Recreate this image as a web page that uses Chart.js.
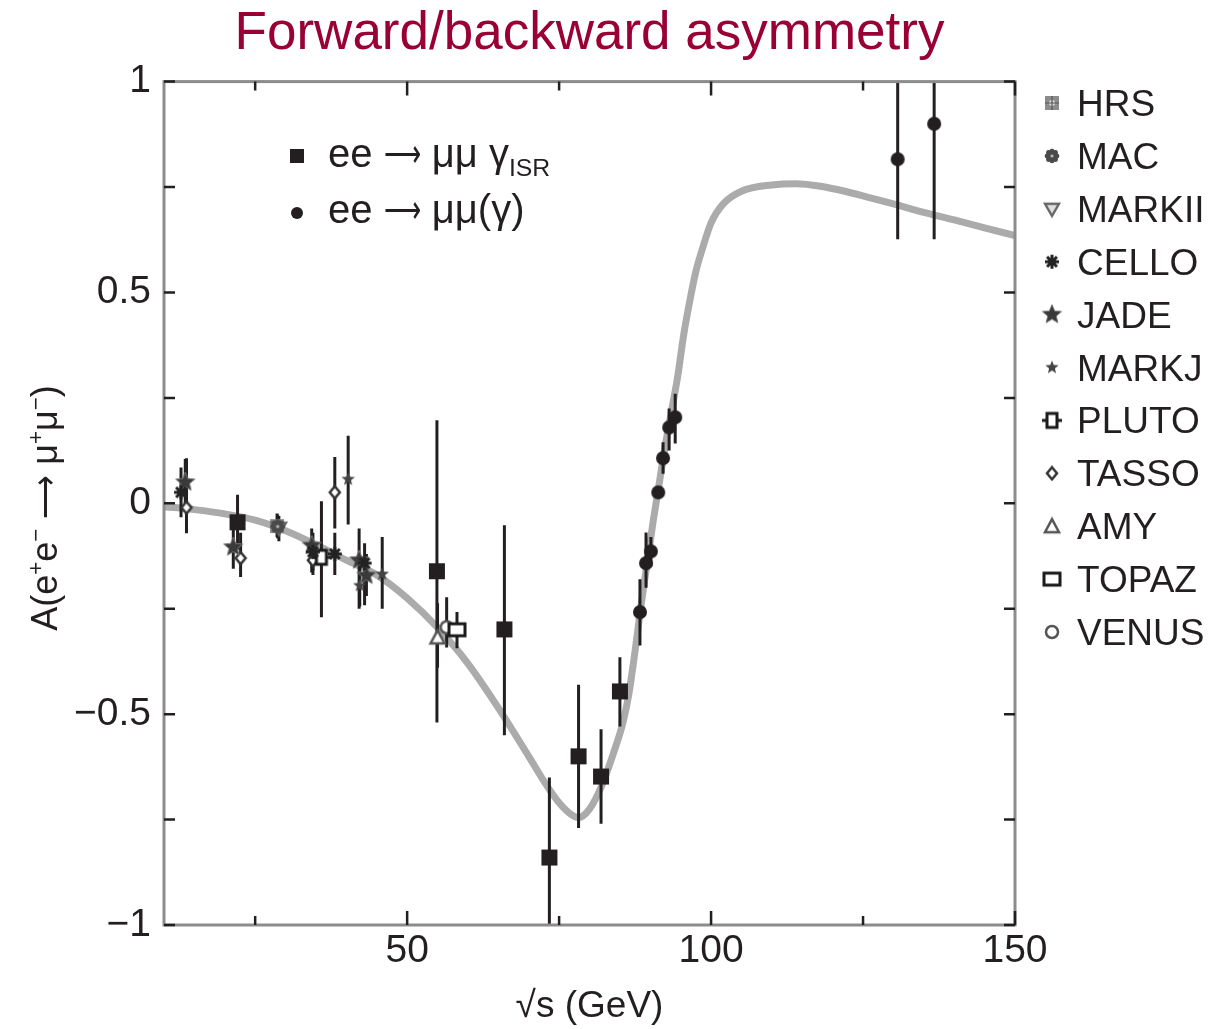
<!DOCTYPE html>
<html>
<head>
<meta charset="utf-8">
<script src="https://cdn.jsdelivr.net/npm/chart.js@4.4.0/dist/chart.umd.min.js"></script>
<style>
  html, body { margin: 0; padding: 0; background: #fff; }
  #wrap { width: 1221px; height: 1029px; }
</style>
</head>
<body>
<div id="wrap"><canvas id="asymmetria" width="1221" height="1029"></canvas></div>
<script>
// eixos
const yTickVals = [-1, -0.75, -0.5, -0.25, 0, 0.25, 0.5, 0.75, 1];
const yTickLabels = ['\u22121', '', '\u22120.5', '', '0', '', '0.5', '', '1'];
const xTickVals = [25, 50, 75, 100, 125, 150];
const xTickLabels = ['', '50', '', '100', '', '150'];

// curva teorica
const curveX = [10, 15, 20, 25, 30, 35, 40, 45, 50, 55, 60, 65, 70, 73, 75, 77, 78.2, 80, 82, 84, 85.5, 86.5, 87.5, 88.5, 89.5, 90.5, 91.5, 92.5, 93.5, 94.5, 95.5, 96.5, 97.5, 98.5, 100, 102, 105, 110, 114, 118, 122, 126, 130, 135, 140, 145, 150];
const curveY = [-0.008, -0.015, -0.025, -0.04, -0.065, -0.098, -0.135, -0.17, -0.225, -0.295, -0.38, -0.485, -0.6, -0.67, -0.71, -0.738, -0.745, -0.725, -0.67, -0.59, -0.52, -0.45, -0.35, -0.24, -0.14, -0.04, 0.05, 0.14, 0.22, 0.3, 0.4, 0.48, 0.55, 0.6, 0.665, 0.71, 0.74, 0.755, 0.758, 0.752, 0.74, 0.725, 0.71, 0.69, 0.672, 0.653, 0.635];

// ee -> mumu gamma_ISR
const isrX = [22.1, 54.9, 66.0, 73.4, 78.2, 81.9, 85.0];
const isrY = [-0.045, -0.161, -0.299, -0.84, -0.6, -0.648, -0.446];
const isrLo = [-0.11, -0.52, -0.55, -1.0, -0.77, -0.76, -0.529];
const isrHi = [0.02, 0.197, -0.052, -0.65, -0.43, -0.536, -0.365];

// ee -> mumu(gamma)
const mmX = [88.3, 89.3, 90.1, 91.3, 92.1, 93.1, 94.1, 130.7, 136.7];
const mmY = [-0.258, -0.142, -0.114, 0.026, 0.107, 0.18, 0.204, 0.816, 0.9];
const mmLo = [-0.337, -0.2, -0.15, 0.017, 0.07, 0.125, 0.142, 0.626, 0.626];
const mmHi = [-0.18, -0.069, -0.08, 0.035, 0.145, 0.225, 0.26, 1.05, 1.1];

// experimentos de baixa energia
const experiments = ['HRS', 'MAC', 'MARKII', 'CELLO', 'JADE', 'MARKJ', 'PLUTO', 'TASSO', 'AMY', 'TOPAZ', 'VENUS'];
const lowExp = ['CELLO', 'JADE', 'TASSO', 'JADE', 'TASSO', 'HRS', 'MAC', 'MARKII', 'JADE', 'CELLO', 'TASSO', 'PLUTO', 'TASSO', 'CELLO', 'MARKJ', 'JADE', 'CELLO', 'MARKJ', 'JADE', 'MARKJ', 'AMY', 'VENUS', 'TOPAZ'];
const lowX = [12.8, 13.5, 13.7, 21.4, 22.6, 28.6, 28.7, 28.9, 34.3, 34.5, 34.5, 35.9, 38.1, 38.1, 40.3, 42.1, 43.0, 42.2, 43.3, 45.9, 55.0, 56.5, 58.2];
const lowY = [0.026, 0.05, -0.01, -0.104, -0.13, -0.054, -0.055, -0.058, -0.1, -0.115, -0.135, -0.128, 0.026, -0.12, 0.057, -0.135, -0.142, -0.195, -0.171, -0.168, -0.318, -0.294, -0.3];
const lowLo = [-0.033, 0.0, -0.071, -0.155, -0.175, -0.08, -0.083, -0.09, -0.164, -0.16, -0.17, -0.27, -0.06, -0.17, -0.05, -0.25, -0.242, -0.245, -0.22, -0.25, -0.39, -0.342, -0.344];
const lowHi = [0.085, 0.105, 0.107, -0.06, -0.07, -0.024, -0.027, -0.03, -0.06, -0.07, -0.1, 0.005, 0.11, -0.07, 0.16, -0.06, -0.095, -0.14, -0.12, -0.08, -0.237, -0.223, -0.258];

const FONT = "'Liberation Sans', Arial, sans-serif";
const INK = '#231f20';

// simbolos
function simbolo(size, desenho) {
    const c = document.createElement('canvas');
    c.width = size; c.height = size;
    const g = c.getContext('2d');
    g.translate(size / 2, size / 2);
    desenho(g);
    return c;
}
function estrela(g, ro, ri) {
    g.beginPath();
    for (let k = 0; k < 10; k++) {
        const r = k % 2 ? ri : ro;
        const a = -Math.PI / 2 + k * Math.PI / 5;
        g.lineTo(r * Math.cos(a), r * Math.sin(a));
    }
    g.closePath();
}

const simbolos = {
    HRS: simbolo(18, g => {
        g.fillStyle = '#8c8c8c'; g.fillRect(-7, -7, 14, 14);
        g.fillStyle = '#dcdcdc'; g.beginPath(); g.arc(0, 0, 3, 0, 7); g.fill();
        g.strokeStyle = '#555'; g.lineWidth = 1.2; g.beginPath();
        g.moveTo(-7, 0); g.lineTo(7, 0); g.moveTo(0, -7); g.lineTo(0, 7); g.stroke();
    }),
    MAC: simbolo(20, g => {
        g.fillStyle = '#4a4a4a';
        for (let k = 0; k < 8; k++) {
            const a = k * Math.PI / 4;
            g.beginPath(); g.arc(4.8 * Math.cos(a), 4.8 * Math.sin(a), 2.5, 0, 7); g.fill();
        }
        g.beginPath(); g.arc(0, 0, 4.2, 0, 7); g.fill();
        g.fillStyle = '#bbb'; g.beginPath(); g.arc(0, 0, 1.6, 0, 7); g.fill();
    }),
    MARKII: simbolo(20, g => {
        g.beginPath(); g.moveTo(-7, -5); g.lineTo(7, -5); g.lineTo(0, 7); g.closePath();
        g.fillStyle = '#e0e0e0'; g.fill();
        g.strokeStyle = '#666'; g.lineWidth = 2.4; g.stroke();
    }),
    CELLO: simbolo(20, g => {
        g.strokeStyle = '#222'; g.lineWidth = 3; g.beginPath();
        for (let k = 0; k < 4; k++) {
            const a = k * Math.PI / 4;
            g.moveTo(-7 * Math.cos(a), -7 * Math.sin(a)); g.lineTo(7 * Math.cos(a), 7 * Math.sin(a));
        }
        g.stroke();
    }),
    JADE: simbolo(24, g => {
        estrela(g, 10, 4.5);
        g.fillStyle = '#3a3a3a'; g.fill();
        g.strokeStyle = '#777'; g.lineWidth = 1; g.stroke();
    }),
    MARKJ: simbolo(18, g => {
        estrela(g, 7, 3);
        g.fillStyle = '#444'; g.fill();
    }),
    PLUTO: simbolo(22, g => {
        g.strokeStyle = '#1a1a1a'; g.lineWidth = 3;
        g.fillStyle = '#fff'; g.fillRect(-5, -7, 10, 14);
        g.strokeRect(-5, -7, 10, 14);
        g.beginPath(); g.moveTo(-10, 0); g.lineTo(-5, 0); g.moveTo(5, 0); g.lineTo(10, 0); g.stroke();
    }),
    TASSO: simbolo(16, g => {
        g.beginPath(); g.moveTo(0, -6); g.lineTo(5, 0); g.lineTo(0, 6); g.lineTo(-5, 0); g.closePath();
        g.fillStyle = '#fff'; g.fill();
        g.strokeStyle = '#333'; g.lineWidth = 2.5; g.stroke();
    }),
    AMY: simbolo(20, g => {
        g.beginPath(); g.moveTo(-7, 6); g.lineTo(7, 6); g.lineTo(0, -7); g.closePath();
        g.fillStyle = '#fff'; g.fill();
        g.strokeStyle = '#555'; g.lineWidth = 2.5; g.stroke();
    }),
    TOPAZ: simbolo(22, g => {
        g.fillStyle = '#fff'; g.fillRect(-8, -6, 16, 12);
        g.strokeStyle = '#1a1a1a'; g.lineWidth = 3; g.strokeRect(-8, -6, 16, 12);
    }),
    VENUS: simbolo(18, g => {
        g.beginPath(); g.arc(0, 0, 6, 0, 7);
        g.fillStyle = '#fff'; g.fill();
        g.strokeStyle = '#555'; g.lineWidth = 2.5; g.stroke();
    })
};
// ordem de desenho: HRS fica por baixo do MAC em 29 GeV
const ordem = { HRS: 4, MARKII: 3 };
const quadrado = simbolo(20, g => { g.fillStyle = INK; g.fillRect(-8, -8, 16, 16); });
const bolinha = simbolo(18, g => { g.fillStyle = INK; g.beginPath(); g.arc(0, 0, 7, 0, 7); g.fill(); });
const quadradoLeg = simbolo(18, g => { g.fillStyle = INK; g.fillRect(-7, -7, 14, 14); });
const bolinhaLeg = simbolo(16, g => { g.fillStyle = INK; g.beginPath(); g.arc(0, 0, 6, 0, 7); g.fill(); });

// datasets
const datasets = [];
datasets.push({
    label: 'curva',
    isCurve: true,
    type: 'line',
    data: curveX.map((x, i) => ({ x: x, y: curveY[i] })),
    borderColor: '#ababab',
    borderWidth: 7,
    pointRadius: 0,
    cubicInterpolationMode: 'monotone',
    fill: false,
    order: 10
});
experiments.forEach(nome => {
    const idx = lowExp.map((e, i) => e === nome ? i : -1).filter(i => i >= 0);
    datasets.push({
        label: nome,
        data: idx.map(i => ({ x: lowX[i], y: lowY[i] })),
        errLo: idx.map(i => lowLo[i]),
        errHi: idx.map(i => lowHi[i]),
        pointStyle: simbolos[nome],
        order: ordem[nome] || 2
    });
});
datasets.push({
    label: 'ee \u2192 \u03bc\u03bc \u03b3ISR',
    data: isrX.map((x, i) => ({ x: x, y: isrY[i] })),
    errLo: isrLo, errHi: isrHi,
    pointStyle: quadrado,
    order: 1
});
datasets.push({
    label: 'ee \u2192 \u03bc\u03bc(\u03b3)',
    data: mmX.map((x, i) => ({ x: x, y: mmY[i] })),
    errLo: mmLo, errHi: mmHi,
    pointStyle: bolinha,
    order: 1
});

// barras de erro, desenhadas logo depois da curva
const barrasErro = {
    id: 'barrasErro',
    afterDatasetDraw(chart, args) {
        if (!chart.data.datasets[args.index].isCurve) return;
        const { ctx, chartArea: a, scales: { x, y } } = chart;
        ctx.save();
        ctx.beginPath(); ctx.rect(a.left, a.top, a.right - a.left, a.bottom - a.top); ctx.clip();
        ctx.strokeStyle = INK; ctx.lineWidth = 3;
        chart.data.datasets.forEach(d => {
            if (!d.errLo) return;
            d.data.forEach((p, i) => {
                const px = x.getPixelForValue(p.x);
                ctx.beginPath();
                ctx.moveTo(px, y.getPixelForValue(d.errLo[i]));
                ctx.lineTo(px, y.getPixelForValue(d.errHi[i]));
                ctx.stroke();
            });
        });
        ctx.restore();
    }
};

// moldura e marcas dos eixos
const moldura = {
    id: 'moldura',
    afterDatasetsDraw(chart) {
        const { ctx, chartArea: a, scales: { x, y } } = chart;
        ctx.save();
        ctx.strokeStyle = '#8c8c8c'; ctx.lineWidth = 3;
        ctx.strokeRect(a.left, a.top, a.right - a.left, a.bottom - a.top);
        ctx.strokeStyle = INK; ctx.lineWidth = 2.5;
        ctx.beginPath();
        xTickVals.forEach((v, i) => {
            const px = x.getPixelForValue(v);
            const len = xTickLabels[i] ? 14 : 9;
            ctx.moveTo(px, a.bottom); ctx.lineTo(px, a.bottom - len);
            ctx.moveTo(px, a.top); ctx.lineTo(px, a.top + len);
        });
        yTickVals.forEach(v => {
            const py = y.getPixelForValue(v);
            ctx.moveTo(a.left, py); ctx.lineTo(a.left + 11, py);
            ctx.moveTo(a.right, py); ctx.lineTo(a.right - 11, py);
        });
        ctx.stroke();
        ctx.restore();
    }
};

// texto com sobrescrito/subscrito; p.w estreita o trecho (seta)
function textoRico(ctx, partes, x, y, size, soMedir) {
    let cx = x;
    partes.forEach(p => {
        const fs = (p.sup || p.sub) ? size * 0.62 : size;
        ctx.font = fs + 'px ' + FONT;
        const dy = p.sup ? -size * 0.4 : (p.sub ? size * 0.22 : 0);
        const mw = ctx.measureText(p.t).width;
        const w = p.w || mw;
        if (!soMedir) {
            ctx.save();
            ctx.translate(cx, y + dy);
            ctx.scale(w / mw, 1);
            ctx.fillText(p.t, 0, 0);
            ctx.restore();
        }
        cx += w;
    });
    return cx - x;
}

// legendas e titulo do eixo y
const legendas = {
    id: 'legendas',
    afterDraw(chart) {
        const ctx = chart.ctx;
        ctx.save();
        ctx.fillStyle = INK;
        ctx.textBaseline = 'alphabetic';
        ctx.textAlign = 'left';

        // legenda da direita
        experiments.forEach((nome, i) => {
            const cy = 103 + i * 52.9;
            const img = simbolos[nome];
            ctx.drawImage(img, 1052 - img.width / 2, cy - img.height / 2);
            ctx.font = '37px ' + FONT;
            ctx.fillText(nome, 1077, cy + 13);
        });

        // legenda interna
        ctx.drawImage(quadradoLeg, 297 - quadradoLeg.width / 2, 156 - quadradoLeg.height / 2);
        ctx.drawImage(bolinhaLeg, 297 - bolinhaLeg.width / 2, 213 - bolinhaLeg.height / 2);
        textoRico(ctx, [{ t: 'ee ' }, { t: '\u27f6', w: 37 }, { t: ' \u03bc\u03bc \u03b3' }, { t: 'ISR', sub: true }], 328, 167, 40);
        textoRico(ctx, [{ t: 'ee ' }, { t: '\u27f6', w: 37 }, { t: ' \u03bc\u03bc(\u03b3)' }], 328, 223, 40);

        // titulo do eixo y
        const partes = [
            { t: 'A(e' }, { t: '+', sup: true }, { t: 'e' }, { t: '\u2212', sup: true },
            { t: ' ' }, { t: '\u27f6', w: 44 }, { t: ' ' }, { t: '\u03bc' }, { t: '+', sup: true }, { t: '\u03bc' },
            { t: '\u2212', sup: true }, { t: ')' }
        ];
        const w = textoRico(ctx, partes, 0, 0, 36, true);
        ctx.translate(42, 508);
        ctx.rotate(-Math.PI / 2);
        textoRico(ctx, partes, -w / 2, 15, 36);
        ctx.restore();
    }
};

const ctx = document.getElementById('asymmetria').getContext('2d');
new Chart(ctx, {
    type: 'scatter',
    data: { datasets: datasets },
    options: {
        responsive: false,
        animation: false,
        devicePixelRatio: 1,
        layout: { padding: { left: 0, right: 206, top: 0, bottom: 0 } },
        plugins: {
            legend: { display: false },
            tooltip: { enabled: false },
            title: {
                display: true,
                fullSize: false,
                text: 'Forward/backward asymmetry',
                color: '#990033',
                font: { family: FONT, size: 53, weight: 'normal', lineHeight: 1.2 },
                padding: { top: 3, bottom: 15 }
            }
        },
        scales: {
            x: {
                type: 'linear',
                min: 10,
                max: 150,
                grid: { display: false, drawTicks: false },
                border: { display: false },
                afterBuildTicks: scale => { scale.ticks = xTickVals.map(v => ({ value: v })); },
                afterFit: scale => { scale.height = 104; },
                ticks: {
                    autoSkip: false,
                    maxRotation: 0,
                    padding: 3,
                    color: INK,
                    font: { family: FONT, size: 39 },
                    callback: v => xTickLabels[xTickVals.indexOf(v)] || ''
                },
                title: {
                    display: true,
                    text: '\u221as (GeV)',
                    color: INK,
                    font: { family: FONT, size: 37, lineHeight: 1.2 },
                    padding: { top: 0, bottom: 0 }
                }
            },
            y: {
                type: 'linear',
                min: -1,
                max: 1,
                grid: { display: false, drawTicks: false },
                border: { display: false },
                afterBuildTicks: scale => { scale.ticks = yTickVals.map(v => ({ value: v })); },
                afterFit: scale => { scale.width = 164; },
                ticks: {
                    autoSkip: false,
                    padding: 13,
                    color: INK,
                    font: { family: FONT, size: 39 },
                    callback: v => yTickLabels[yTickVals.indexOf(v)] || ''
                }
            }
        }
    },
    plugins: [barrasErro, moldura, legendas]
});
</script>
</body>
</html>
